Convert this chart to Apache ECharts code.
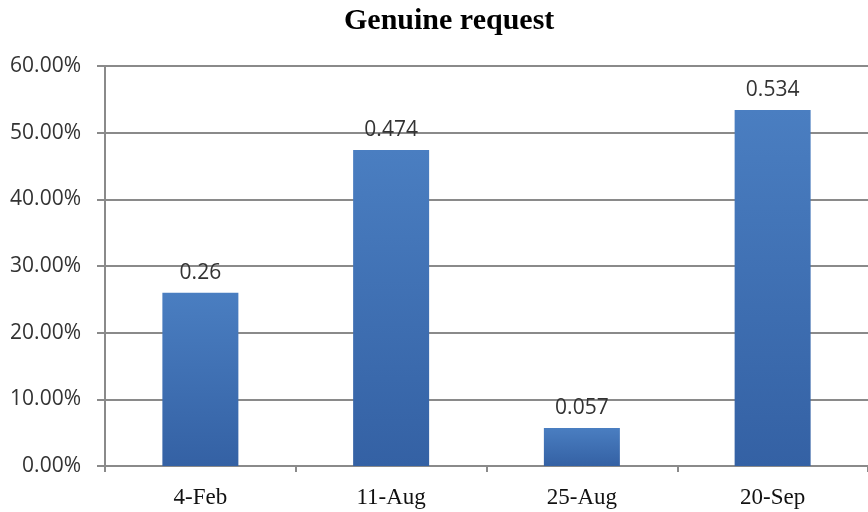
<!DOCTYPE html>
<html>
<head>
<meta charset="utf-8">
<script src="https://cdn.jsdelivr.net/npm/echarts@6/dist/echarts.min.js"></script>
<style>
  html, body { margin: 0; padding: 0; background: #fff; }
  #chart { width: 868px; height: 512px; }
</style>
</head>
<body>
<div id="chart"></div>
<script>
// Share of genuine requests per date
const categories = ['4-Feb', '11-Aug', '25-Aug', '20-Sep'];
const values = [0.26, 0.474, 0.057, 0.534];
const yTicks = [0, 0.1, 0.2, 0.3, 0.4, 0.5, 0.6];

const chart = echarts.init(document.getElementById('chart'), null, { renderer: 'canvas' });

chart.setOption({
  animation: false,
  backgroundColor: '#ffffff',
  title: {
    text: 'Genuine request',
    left: 339,
    top: 1,
    textStyle: {
      fontFamily: 'Liberation Serif',
      fontWeight: 'bold',
      fontSize: 30,
      color: '#000'
    }
  },
  grid: { left: 105, right: -1, top: 66, bottom: 46, containLabel: false },
  xAxis: {
    type: 'category',
    data: categories,
    axisLine: { lineStyle: { color: '#8a8a8a', width: 2 } },
    axisTick: { show: true, length: 6, lineStyle: { color: '#8a8a8a', width: 2 } },
    axisLabel: {
      fontFamily: 'Liberation Serif',
      fontSize: 23,
      color: '#111',
      margin: 20
    }
  },
  yAxis: {
    type: 'value',
    min: yTicks[0],
    max: yTicks[yTicks.length - 1],
    interval: 0.1,
    axisLine: { show: true, lineStyle: { color: '#8a8a8a', width: 2 } },
    axisTick: { show: true, length: 8, lineStyle: { color: '#8a8a8a', width: 2 } },
    splitLine: { show: true, lineStyle: { color: '#8a8a8a', width: 2 } },
    axisLabel: {
      fontFamily: 'Open Sans',
      fontSize: 21,
      color: '#333',
      margin: 24,
      formatter: v => (v * 100).toFixed(2) + '%'
    }
  },
  series: [{
    type: 'bar',
    data: values,
    barWidth: 76,
    itemStyle: {
      color: new echarts.graphic.LinearGradient(0, 0, 0, 1, [
        { offset: 0, color: '#4a7ec1' },
        { offset: 1, color: '#3461a4' }
      ])
    },
    label: {
      show: true,
      position: 'top',
      distance: 9,
      fontFamily: 'Open Sans',
      fontSize: 21,
      color: '#333',
      formatter: p => String(p.value)
    }
  }]
});
</script>
</body>
</html>
